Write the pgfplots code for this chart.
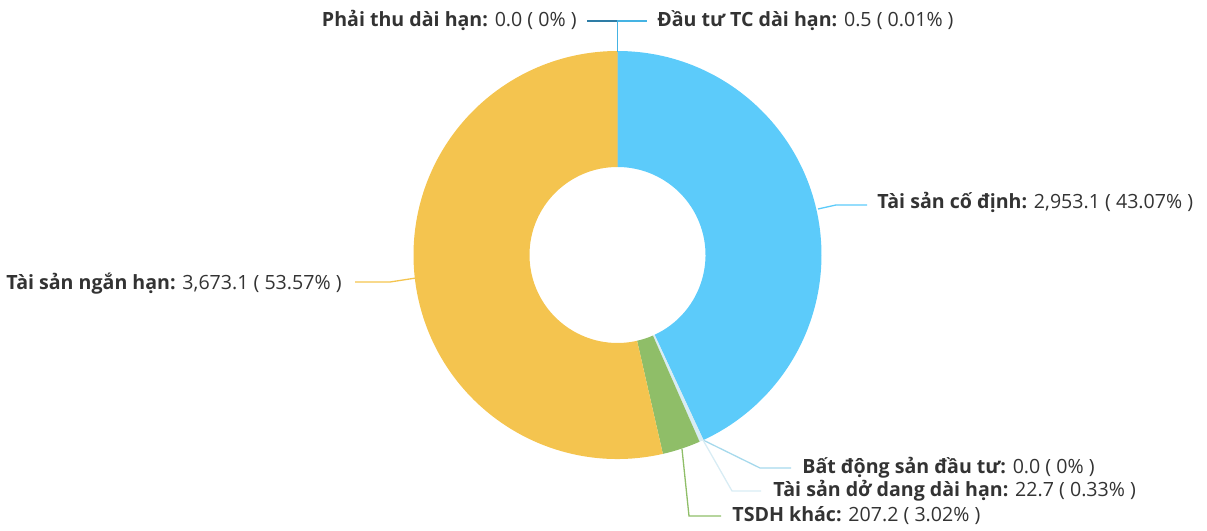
\documentclass[border=0pt]{standalone}
\usepackage{pgfplots}
\pgfplotsset{compat=1.18}
\usepackage{fontspec}
\setmainfont{Open Sans}
\definecolor{cBlue}{HTML}{5CCBFA}
\definecolor{cYellow}{HTML}{F4C44F}
\definecolor{cGreen}{HTML}{8FBE68}
\definecolor{cLight}{HTML}{D8ECF4}
\definecolor{cLineBDS}{HTML}{A6D9EC}
\definecolor{cDark}{HTML}{2E7DA6}
\definecolor{cMid}{HTML}{45B3E3}
\definecolor{cTxt}{HTML}{333333}
% data (clockwise from the top)
\def\vA{0.5}    % Dau tu TC dai han
\def\vB{2953.1} % Tai san co dinh
\def\vC{0.0}    % Bat dong san dau tu
\def\vD{22.7}   % Tai san do dang dai han
\def\vE{207.2}  % TSDH khac
\def\vF{3673.1} % Tai san ngan han
\def\vG{0.0}    % Phai thu dai han
\pgfmathsetmacro\tot{\vA+\vB+\vC+\vD+\vE+\vF+\vG}
\pgfmathsetmacro\aA{90}
\pgfmathsetmacro\aB{\aA-360*(\vA/\tot)}
\pgfmathsetmacro\aC{\aB-360*(\vB/\tot)}
\pgfmathsetmacro\aD{\aC-360*(\vC/\tot)}
\pgfmathsetmacro\aE{\aD-360*(\vD/\tot)}
\pgfmathsetmacro\aF{\aE-360*(\vE/\tot)}
\pgfmathsetmacro\aG{\aF-360*(\vF/\tot)}
\pgfmathsetmacro\aH{\aG-360*(\vG/\tot)}
\def\Ro{102pt}
\def\Ri{44pt}
\newcommand\slice[3]{\fill[#3] (#1:\Ro) arc[start angle=#1,end angle=#2,radius=\Ro] -- (#2:\Ri) arc[start angle=#2,end angle=#1,radius=\Ri] -- cycle;}
\newcommand\lab[4]{\node[anchor=#1,inner sep=0pt,text=cTxt,font=\fontsize{9.8}{12}\selectfont] at (axis cs:#2) {\textbf{#3:} #4};}
\begin{document}
\begin{tikzpicture}
\begin{axis}[
  x=0.5pt, y=0.5pt,
  xmin=0, xmax=1207, ymin=0, ymax=531,
  hide axis, clip=false,
]
\path (axis cs:0,0) rectangle (axis cs:1207,531);
\begin{scope}[shift={(axis cs:617.5,276)}]
\slice{\aA}{\aB}{cMid}
\slice{\aB}{\aC}{cBlue}
\slice{\aC}{\aD}{cLineBDS}
\slice{\aD}{\aE}{cLight}
\slice{\aE}{\aF}{cGreen}
\slice{\aF}{\aG}{cYellow}
\slice{\aG}{\aH}{cDark}
\end{scope}
% leader lines
\draw[cDark,line width=0.65pt] (axis cs:617.5,479)--(axis cs:617.5,510)--(axis cs:587,510);
\draw[cMid,line width=0.65pt] (axis cs:617.5,479)--(axis cs:617.5,510)--(axis cs:647,510);
\draw[cBlue,line width=0.65pt] (axis cs:818,322)--(axis cs:836,326)--(axis cs:867,326);
\draw[cYellow,line width=0.65pt] (axis cs:416,253)--(axis cs:390,249)--(axis cs:355,249);
\draw[cLineBDS,line width=0.65pt] (axis cs:703,91)--(axis cs:760,63)--(axis cs:791,63);
\draw[cLight,line width=0.65pt] (axis cs:703,91)--(axis cs:732,40)--(axis cs:761,40);
\draw[cGreen,line width=0.65pt] (axis cs:682,82)--(axis cs:689,15)--(axis cs:721,15);
% labels
\lab{base east}{577,504}{Phải thu dài hạn}{0.0 ( 0\% )}
\lab{base west}{657,504}{Đầu tư TC dài hạn}{0.5 ( 0.01\% )}
\lab{base west}{877,322}{Tài sản cố định}{2,953.1 ( 43.07\% )}
\lab{base east}{342,241}{Tài sản ngắn hạn}{3,673.1 ( 53.57\% )}
\lab{base west}{802,57}{Bất động sản đầu tư}{0.0 ( 0\% )}
\lab{base west}{773,34}{Tài sản dở dang dài hạn}{22.7 ( 0.33\% )}
\lab{base west}{732,10}{TSDH khác}{207.2 ( 3.02\% )}
\end{axis}
\end{tikzpicture}
\end{document}
